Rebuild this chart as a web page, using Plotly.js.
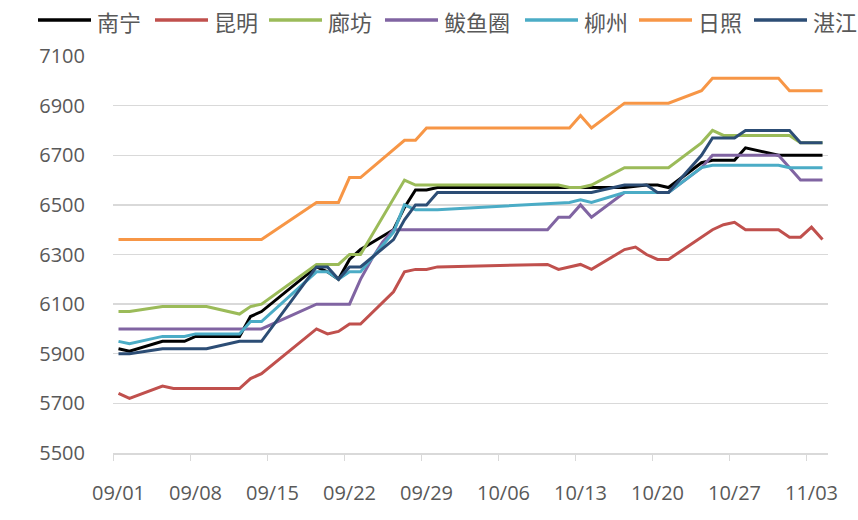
<!DOCTYPE html>
<html>
<head>
<meta charset="utf-8">
<script src="https://cdn.plot.ly/plotly-3.0.1.min.js"></script>
<style>html,body{margin:0;padding:0;background:#fff;}#chart{width:858px;height:520px;}</style>
</head>
<body>
<div id="chart"></div>
<script>
// ---- data ----
const seriesNames = ["南宁", "昆明", "廊坊", "鲅鱼圈", "柳州", "日照", "湛江"];

const nanningDates = ["2023-09-01","2023-09-02","2023-09-05","2023-09-07","2023-09-08","2023-09-12","2023-09-13","2023-09-14","2023-09-19","2023-09-20","2023-09-21","2023-09-22","2023-09-23","2023-09-26","2023-09-27","2023-09-28","2023-09-29","2023-09-30","2023-10-17","2023-10-19","2023-10-20","2023-10-21","2023-10-24","2023-10-25","2023-10-27","2023-10-28","2023-10-31","2023-11-04"];
const nanningValues = [5920,5910,5950,5950,5970,5970,6050,6070,6250,6230,6200,6280,6320,6400,6490,6560,6560,6570,6570,6580,6580,6570,6670,6680,6680,6730,6700,6700];

const kunmingDates = ["2023-09-01","2023-09-02","2023-09-05","2023-09-06","2023-09-12","2023-09-13","2023-09-14","2023-09-19","2023-09-20","2023-09-21","2023-09-22","2023-09-23","2023-09-26","2023-09-27","2023-09-28","2023-09-29","2023-09-30","2023-10-10","2023-10-11","2023-10-13","2023-10-14","2023-10-17","2023-10-18","2023-10-19","2023-10-20","2023-10-21","2023-10-25","2023-10-26","2023-10-27","2023-10-28","2023-10-31","2023-11-01","2023-11-02","2023-11-03","2023-11-04"];
const kunmingValues = [5740,5720,5770,5760,5760,5800,5820,6000,5980,5990,6020,6020,6150,6230,6240,6240,6250,6260,6240,6260,6240,6320,6330,6300,6280,6280,6400,6420,6430,6400,6400,6370,6370,6410,6360];

const langfangDates = ["2023-09-01","2023-09-02","2023-09-05","2023-09-09","2023-09-12","2023-09-13","2023-09-14","2023-09-19","2023-09-21","2023-09-22","2023-09-23","2023-09-27","2023-09-28","2023-10-11","2023-10-12","2023-10-13","2023-10-14","2023-10-17","2023-10-21","2023-10-24","2023-10-25","2023-10-26","2023-11-01","2023-11-02","2023-11-04"];
const langfangValues = [6070,6070,6090,6090,6060,6090,6100,6260,6260,6300,6300,6600,6580,6580,6570,6570,6580,6650,6650,6750,6800,6780,6780,6750,6750];

const bayuquanDates = ["2023-09-01","2023-09-14","2023-09-19","2023-09-22","2023-09-23","2023-09-24","2023-09-25","2023-09-26","2023-10-10","2023-10-11","2023-10-12","2023-10-13","2023-10-14","2023-10-17","2023-10-21","2023-10-24","2023-10-25","2023-10-31","2023-11-02","2023-11-04"];
const bayuquanValues = [6000,6000,6100,6100,6200,6280,6350,6400,6400,6450,6450,6500,6450,6550,6550,6650,6700,6700,6600,6600];

const liuzhouDates = ["2023-09-01","2023-09-02","2023-09-05","2023-09-07","2023-09-08","2023-09-12","2023-09-13","2023-09-14","2023-09-19","2023-09-20","2023-09-21","2023-09-22","2023-09-23","2023-09-26","2023-09-27","2023-09-28","2023-09-30","2023-10-12","2023-10-13","2023-10-14","2023-10-17","2023-10-21","2023-10-24","2023-10-25","2023-10-31","2023-11-01","2023-11-04"];
const liuzhouValues = [5950,5940,5970,5970,5980,5980,6030,6030,6230,6230,6200,6230,6230,6390,6500,6480,6480,6510,6520,6510,6550,6550,6650,6660,6660,6650,6650];

const rizhaoDates = ["2023-09-01","2023-09-14","2023-09-19","2023-09-21","2023-09-22","2023-09-23","2023-09-27","2023-09-28","2023-09-29","2023-10-12","2023-10-13","2023-10-14","2023-10-17","2023-10-21","2023-10-24","2023-10-25","2023-10-31","2023-11-01","2023-11-04"];
const rizhaoValues = [6360,6360,6510,6510,6610,6610,6760,6760,6810,6810,6860,6810,6910,6910,6960,7010,7010,6960,6960];

const zhanjiangDates = ["2023-09-01","2023-09-02","2023-09-05","2023-09-09","2023-09-12","2023-09-14","2023-09-19","2023-09-20","2023-09-21","2023-09-22","2023-09-23","2023-09-26","2023-09-27","2023-09-28","2023-09-29","2023-09-30","2023-10-14","2023-10-17","2023-10-19","2023-10-20","2023-10-21","2023-10-24","2023-10-25","2023-10-27","2023-10-28","2023-11-01","2023-11-02","2023-11-04"];
const zhanjiangValues = [5900,5900,5920,5920,5950,5950,6250,6250,6200,6250,6250,6360,6440,6500,6500,6550,6550,6580,6580,6550,6550,6700,6770,6770,6800,6800,6750,6750];

const tickDates = ["2023-09-01","2023-09-08","2023-09-15","2023-09-22","2023-09-29","2023-10-06","2023-10-13","2023-10-20","2023-10-27","2023-11-03"];
const tickLabels = ["09/01","09/08","09/15","09/22","09/29","10/06","10/13","10/20","10/27","11/03"];
const yTicks = [5500,5700,5900,6100,6300,6500,6700,6900,7100];

// ---- styles ----
const colors = ["#000000", "#C0504D", "#9BBB59", "#8064A2", "#4BACC6", "#F79646", "#2C4D75"];
const allX = [nanningDates, kunmingDates, langfangDates, bayuquanDates, liuzhouDates, rizhaoDates, zhanjiangDates];
const allY = [nanningValues, kunmingValues, langfangValues, bayuquanValues, liuzhouValues, rizhaoValues, zhanjiangValues];

const traces = seriesNames.map((name, i) => ({
  type: "scatter",
  mode: "lines",
  name: name,
  x: allX[i],
  y: allY[i],
  line: { color: colors[i], width: 3 },
  hoverinfo: "skip"
}));

// legend layout (pixel positions of the key samples)
const W = 858, H = 520;
const M = { l: 113, r: 30, t: 56, b: 67 };
const pw = W - M.l - M.r, ph = H - M.t - M.b;
const px2paperX = p => (p - M.l) / pw;
const px2paperY = p => (H - M.b - p) / ph;
const legendStarts = [38, 155, 269, 385, 525, 639, 754];
const sampleLen = 53, legendY = 20;

const shapes = [], annotations = [];
seriesNames.forEach((name, i) => {
  const x0 = legendStarts[i];
  shapes.push({
    type: "line", xref: "paper", yref: "paper",
    x0: px2paperX(x0), x1: px2paperX(x0 + sampleLen),
    y0: px2paperY(legendY), y1: px2paperY(legendY),
    line: { color: colors[i], width: 3.5 }
  });
  annotations.push({
    xref: "paper", yref: "paper",
    x: px2paperX(x0 + sampleLen + 4), y: px2paperY(legendY + 1),
    xanchor: "left", yanchor: "middle",
    text: name, showarrow: false,
    font: { family: "Noto Sans CJK SC, sans-serif", size: 22, color: "#595959" }
  });
});

const tickFont = { family: "Open Sans, Noto Sans, sans-serif", size: 20, color: "#595959" };

const layout = {
  width: W,
  height: H,
  margin: { l: M.l, r: M.r, t: M.t, b: M.b, pad: 0 },
  paper_bgcolor: "#ffffff",
  plot_bgcolor: "#ffffff",
  showlegend: false,
  shapes: shapes,
  annotations: annotations,
  xaxis: {
    type: "date",
    range: ["2023-08-31 12:00", "2023-11-04 12:00"],
    tickvals: tickDates,
    ticktext: tickLabels,
    ticks: "outside",
    ticklen: 21,
    tickcolor: "rgba(0,0,0,0)",
    tickfont: tickFont,
    showgrid: false,
    zeroline: false,
    showline: true,
    linecolor: "#d9d9d9",
    linewidth: 1.5,
    minor: {
      ticks: "outside",
      ticklen: 6,
      tickcolor: "#d9d9d9",
      tickwidth: 1,
      tick0: "2023-08-31 12:00",
      dtick: 7 * 86400000,
      showgrid: false
    },
    fixedrange: true
  },
  yaxis: {
    range: [5500, 7100],
    tickvals: yTicks,
    ticks: "outside",
    ticklen: 23,
    tickcolor: "rgba(0,0,0,0)",
    tickfont: tickFont,
    showgrid: true,
    gridcolor: "#d9d9d9",
    gridwidth: 1.3,
    zeroline: false,
    showline: false,
    fixedrange: true
  }
};

Plotly.newPlot("chart", traces, layout, { displayModeBar: false, staticPlot: true });
</script>
</body>
</html>
